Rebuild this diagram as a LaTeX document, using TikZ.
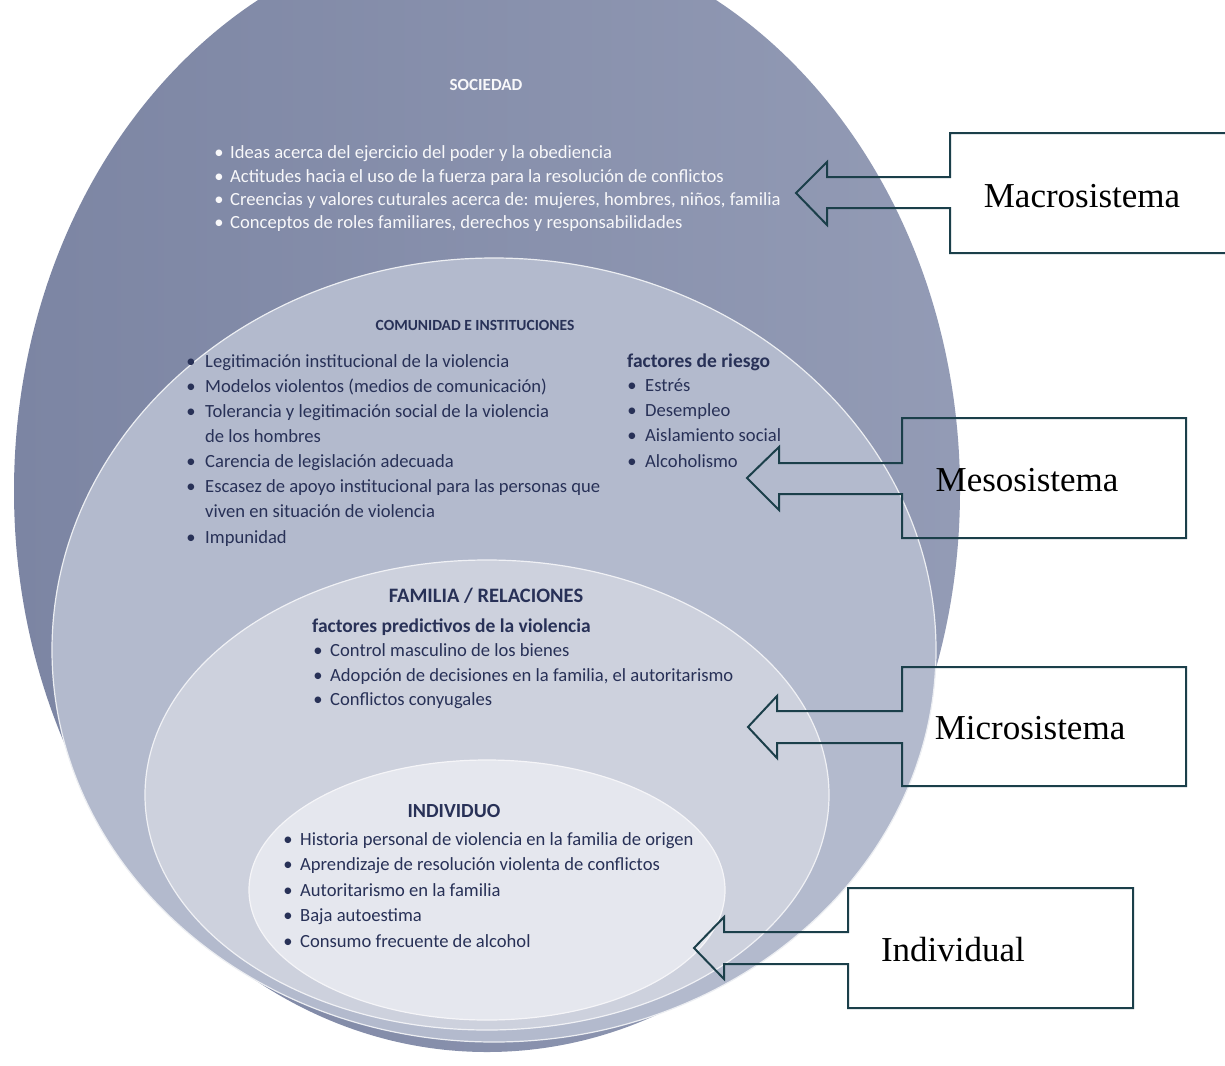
\documentclass[tikz,border=0pt]{standalone}
\usepackage{fontspec}
\setmainfont{Liberation Serif}
\newfontfamily\calfont{Carlito}
\definecolor{eA}{HTML}{8790AD}
\definecolor{eAd}{HTML}{7C85A3}
\definecolor{eB}{HTML}{B3BACD}
\definecolor{eC}{HTML}{CDD1DD}
\definecolor{eD}{HTML}{E5E7EE}
\definecolor{ink}{HTML}{283157}
\definecolor{callcol}{HTML}{1B3F4A}
\begin{document}
\begin{tikzpicture}[x=1pt,y=-1pt,
  txt/.style={font=\calfont\fontsize{18.6}{22}\selectfont, inner sep=0pt, anchor=base west, text=ink},
  wtxt/.style={txt, text=white!94!eA},
  bul/.style={txt, anchor=base},
  wbul/.style={wtxt, anchor=base},
  ttl/.style={font=\calfont\bfseries\fontsize{#1}{#1}\selectfont, inner sep=0pt, anchor=base, text=ink},
  sub/.style={font=\calfont\bfseries\fontsize{19.5}{22}\selectfont, inner sep=0pt, anchor=base west, text=ink},
  callout/.style={draw=callcol, line width=2pt, line join=miter},
  clabel/.style={font=\fontsize{35}{40}\selectfont, inner sep=0pt, text=black}]
\useasboundingbox (0,0) rectangle (1225,1065);
\clip (0,0) rectangle (1225,1065);
\fill[white] (0,0) rectangle (1225,1065);
% nested ellipses
\shade[left color=eAd, right color=eA!90!white] (487,491) ellipse [x radius=473pt, y radius=561pt];
\filldraw[fill=eB, draw=white!75!eB, line width=1.2pt] (494,650) ellipse [x radius=442pt, y radius=392pt];
\filldraw[fill=eC, draw=white!70!eC, line width=1.2pt] (487,795) ellipse [x radius=342pt, y radius=235pt];
\filldraw[fill=eD, draw=white!60!eD, line width=1.2pt] (487,890) ellipse [x radius=238pt, y radius=130pt];

% SOCIEDAD
\node[ttl=17, text=white!94!eA] (socT) at (486,90) {SOCIEDAD};
\foreach \y/\t [count=\i] in {158/Ideas acerca del ejercicio del poder y la obediencia,
  182/Actitudes hacia el uso de la fuerza para la resolución de conflictos,
  205/{Creencias y valores cuturales acerca de: mujeres, hombres, niños, familia},
  228/{Conceptos de roles familiares, derechos y responsabilidades}}{
  \node[wbul] (socB\i) at (219,\y) {\textbullet};
  \node[wtxt] (soc\i) at (230,\y) {\t};
}

% COMUNIDAD
\node[ttl=15.5] (comT) at (475,330) {COMUNIDAD E INSTITUCIONES};
\foreach \y/\t [count=\i] in {367/Legitimación institucional de la violencia,
  392/Modelos violentos (medios de comunicación),
  417/Tolerancia y legitimación social de la violencia,
  467/Carencia de legislación adecuada,
  492/Escasez de apoyo institucional para las personas que,
  543/Impunidad}{
  \node[bul] (comB\i) at (191,\y) {\textbullet};
  \node[txt] (com\i) at (205,\y) {\t};
}
\node[txt] (comC1) at (205,442) {de los hombres};
\node[txt] (comC2) at (205,517) {viven en situación de violencia};
\node[sub] (riesT) at (627,367) {factores de riesgo};
\foreach \y/\t [count=\i] in {391/Estrés, 416/Desempleo, 441/Aislamiento social, 467/Alcoholismo}{
  \node[bul] (riesB\i) at (632,\y) {\textbullet};
  \node[txt] (ries\i) at (645,\y) {\t};
}

% FAMILIA
\node[ttl=20.5] (famT) at (486,602) {FAMILIA / RELACIONES};
\node[sub] (famS) at (312,632) {factores predictivos de la violencia};
\foreach \y/\t [count=\i] in {656/Control masculino de los bienes,
  681/{Adopción de decisiones en la familia, el autoritarismo},
  705/Conflictos conyugales}{
  \node[bul] (famB\i) at (318,\y) {\textbullet};
  \node[txt] (fam\i) at (330,\y) {\t};
}

% INDIVIDUO
\node[ttl=20] (indT) at (454,817) {INDIVIDUO};
\foreach \y/\t [count=\i] in {845/Historia personal de violencia en la familia de origen,
  870.5/Aprendizaje de resolución violenta de conflictos,
  896/Autoritarismo en la familia,
  921.5/Baja autoestima,
  947/Consumo frecuente de alcohol}{
  \node[bul] (indB\i) at (288,\y) {\textbullet};
  \node[txt] (ind\i) at (300,\y) {\t};
}

% callouts
\draw[callout] (1240,133) -- (950,133) -- (950,177) -- (827,177) -- (827,162) -- (796,193)
  -- (827,225) -- (827,208) -- (950,208) -- (950,253) -- (1240,253);
\node[clabel] (macro) at (1082,196) {Macrosistema};

\draw[callout] (1186,418) -- (902,418) -- (902,463) -- (779,463) -- (779,447) -- (747,478)
  -- (779,510) -- (779,494) -- (902,494) -- (902,538) -- (1186,538) -- cycle;
\node[clabel] (meso) at (1027,480) {Mesosistema};

\draw[callout] (1186,667) -- (902,667) -- (902,711) -- (777,711) -- (777,696) -- (748,727)
  -- (777,758) -- (777,743) -- (902,743) -- (902,786) -- (1186,786) -- cycle;
\node[clabel] (micro) at (1030,728) {Microsistema};

\draw[callout] (1133,888) -- (848,888) -- (848,932) -- (724,932) -- (724,917) -- (694,948)
  -- (724,979) -- (724,964) -- (848,964) -- (848,1008) -- (1133,1008) -- cycle;
\node[clabel] (indiv) at (953,950) {Individual};
\end{tikzpicture}
\end{document}
